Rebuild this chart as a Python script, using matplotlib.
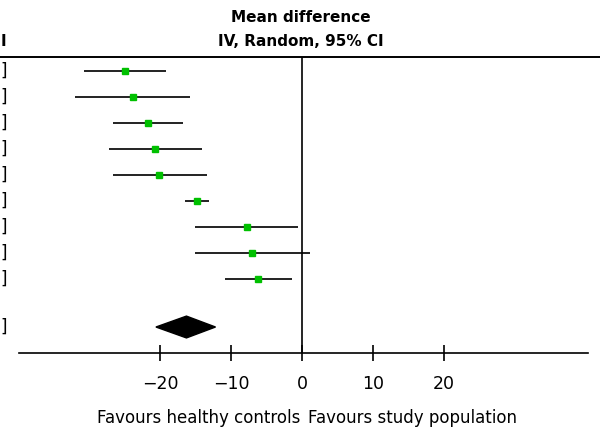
import numpy as np
import matplotlib.pyplot as plt
from matplotlib.lines import Line2D

# study rows (labels cut off at the left edge of the picture)
est = [-24.9, -23.9, -21.7, -20.7, -20.1, -14.8, -7.7, -7.0, -6.2]
ci_lo = [-30.8, -32.0, -26.6, -27.2, -26.6, -16.5, -15.1, -15.1, -10.8]
ci_hi = [-19.2, -15.8, -16.8, -14.1, -13.4, -13.1, -0.6, 1.1, -1.4]
pooled = -16.3
pooled_lo = -20.6
pooled_hi = -12.2
ticks = [-20, -10, 0, 10, 20]

W, H = 600, 428
fig = plt.figure(figsize=(W / 100, H / 100), dpi=100)
plt.rcParams['font.family'] = ['DejaVu Sans']

ax_left, ax_right = 19 / W, 588 / W
ax_top, ax_bot = 57 / H, 353 / H
ax = fig.add_axes([ax_left, 1 - ax_bot, ax_right - ax_left, ax_bot - ax_top])

rows = np.arange(1, len(est) + 1)
ax.hlines(rows, ci_lo, ci_hi, color='#222222', lw=1.4, zorder=2)
ax.plot(est, rows, 's', color='#00c000', ms=4.6, mec='#00c000', zorder=3)

yd = 10.85
hd = 0.42
ax.fill([pooled_lo, pooled, pooled_hi, pooled], [yd, yd - hd, yd, yd + hd],
        color='black', zorder=3)

ax.axvline(0, color='black', lw=1.2)

ax.set_xlim(-39.9, 40.3)
ax.set_ylim(11.85, 0.46)
ax.set_xticks(ticks)
ax.set_xticklabels(['\u221220', '\u221210', '0', '10', '20'])
ax.set_yticks([])
for s in ['top', 'left', 'right']:
    ax.spines[s].set_visible(False)
ax.spines['bottom'].set_linewidth(1.2)
ax.tick_params(axis='x', direction='inout', length=12, width=1.2,
               labelsize=12.5, pad=10)

# header line across the whole width
fig.add_artist(Line2D([0, 1], [1 - ax_top, 1 - ax_top], color='black', lw=1.4))

fig.text(301 / W, 1 - 18 / H, 'Mean difference', ha='center', va='center',
         fontsize=11, fontweight='bold')
fig.text(301 / W, 1 - 41 / H, 'IV, Random, 95% CI', ha='center', va='center',
         fontsize=11, fontweight='bold')

# truncated left column
fig.text(0.5 / W, 1 - 42 / H, 'I', ha='left', va='center', fontsize=11,
         fontweight='bold')
for r in list(rows) + [yd]:
    y_px = 57 + (r - 0.46) / (11.85 - 0.46) * (353 - 57)
    fig.text(0.5 / W, 1 - y_px / H, ']', ha='left', va='center', fontsize=12)

fig.text(300 / W, 1 - 418 / H, 'Favours healthy controls', ha='right',
         va='center', fontsize=12)
fig.text(308 / W, 1 - 418 / H, 'Favours study population', ha='left',
         va='center', fontsize=12)

fig.savefig('out.png', dpi=100)
